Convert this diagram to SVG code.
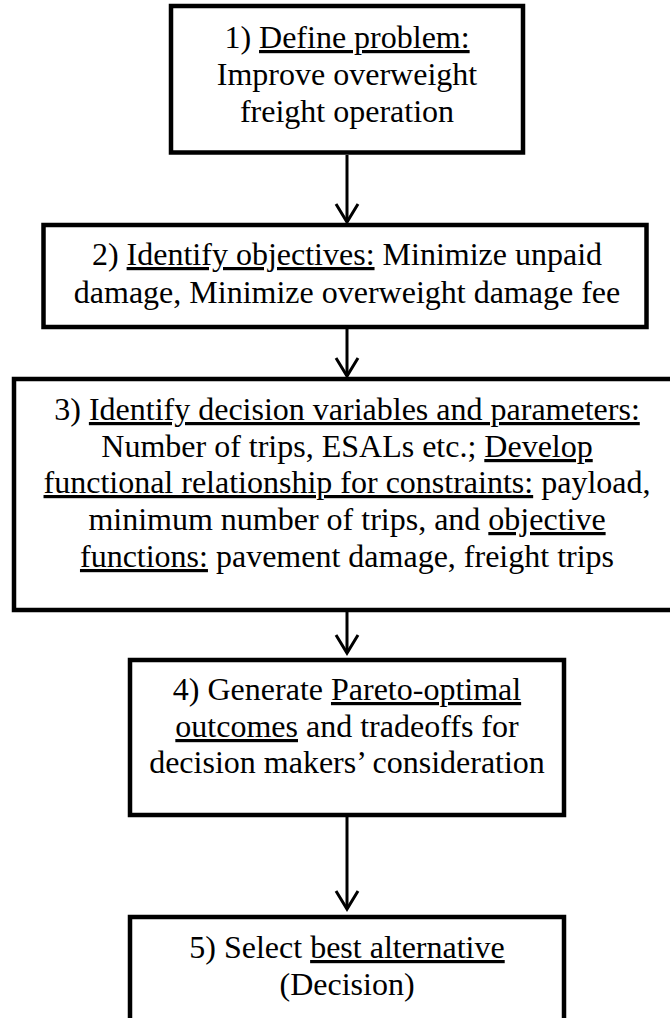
<svg xmlns="http://www.w3.org/2000/svg" width="670" height="1018" viewBox="0 0 670 1018">
<defs>
<style>
.box{fill:#fff;stroke:#000;stroke-width:4.5}
.t{font-family:'Liberation Serif','Times New Roman',serif;font-size:32px;fill:#000;text-anchor:middle}
.u{text-decoration:underline}
.c{stroke:#000;stroke-width:3;fill:none}
</style>
</defs>
<rect width="670" height="1018" fill="#fff"/>
<g id="connectors">
<line class="c" x1="347" y1="155" x2="347" y2="222"/>
<line class="c" x1="347" y1="329" x2="347" y2="376"/>
<line class="c" x1="347" y1="612" x2="347" y2="653"/>
<line class="c" x1="347" y1="817" x2="347" y2="909"/>
<path class="c" d="M336,204 L347,222 L358,204 M336,358 L347,376 L358,358 M336,635 L347,653 L358,635 M336,891 L347,909 L358,891"/>
</g>
<g id="n1">
<rect class="box" x="171" y="6" width="352" height="146.5"/>
<text class="t" x="347" y="48">1) <tspan class="u">Define problem:</tspan></text>
<text class="t" x="347" y="85">Improve overweight</text>
<text class="t" x="347" y="122">freight operation</text>
</g>
<g id="n2">
<rect class="box" x="43.5" y="225" width="603" height="102"/>
<text class="t" x="347" y="265">2) <tspan class="u">Identify objectives:</tspan> Minimize unpaid</text>
<text class="t" x="347" y="303">damage, Minimize overweight damage fee</text>
</g>
<g id="n3">
<rect class="box" x="14" y="379" width="680" height="231"/>
<text class="t" x="347" y="420">3) <tspan class="u">Identify decision variables and parameters:</tspan></text>
<text class="t" x="347" y="457">Number of trips, ESALs etc.; <tspan class="u">Develop</tspan></text>
<text class="t" x="347" y="493"><tspan class="u">functional relationship for constraints:</tspan> payload,</text>
<text class="t" x="347" y="530">minimum number of trips, and <tspan class="u">objective</tspan></text>
<text class="t" x="347" y="567"><tspan class="u">functions:</tspan> pavement damage, freight trips</text>
</g>
<g id="n4">
<rect class="box" x="130" y="660" width="434" height="155"/>
<text class="t" x="347" y="700">4) Generate <tspan class="u">Pareto-optimal</tspan></text>
<text class="t" x="347" y="737"><tspan class="u">outcomes</tspan> and tradeoffs for</text>
<text class="t" x="347" y="773">decision makers’ consideration</text>
</g>
<g id="n5">
<rect class="box" x="130" y="917" width="434" height="140"/>
<text class="t" x="347" y="958">5) Select <tspan class="u">best alternative</tspan></text>
<text class="t" x="347" y="995">(Decision)</text>
</g>
</svg>
